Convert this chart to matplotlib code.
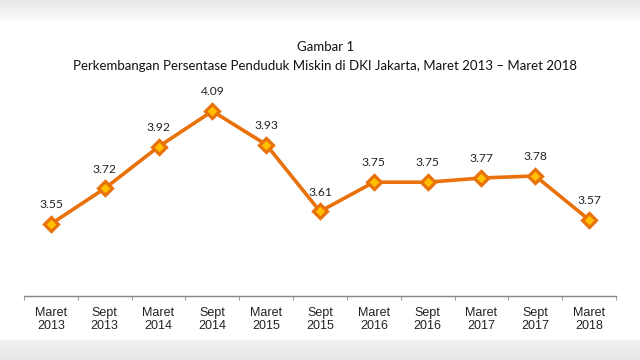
""" plot.py """

import numpy as np
import matplotlib.pyplot as plt

periods = ["Maret\n2013", "Sept\n2013", "Maret\n2014", "Sept\n2014", "Maret\n2015",
           "Sept\n2015", "Maret\n2016", "Sept\n2016", "Maret\n2017", "Sept\n2017",
           "Maret\n2018"]
persen = [3.55, 3.72, 3.92, 4.09, 3.93, 3.61, 3.75, 3.75, 3.77, 3.78, 3.57]

title_1 = "Gambar 1"
title_2 = "Perkembangan Persentase Penduduk Miskin di DKI Jakarta, Maret 2013 \u2013 Maret 2018"

fig = plt.figure(figsize=(6.4, 3.6), dpi=100)
fig.patch.set_facecolor("white")

# background: grey fade at top and bottom edges
bg = fig.add_axes([0, 0, 1, 1])
rows = np.ones(360)
rows[:22] = np.linspace(0.91, 0.99, 22)
rows[340:] = np.linspace(0.95, 0.90, 20)
grad = np.repeat(rows[:, None], 640, axis=1)
bg.imshow(np.dstack([grad, grad, grad]), aspect="auto", extent=[0, 1, 0, 1])
bg.axis("off")

ax = fig.add_axes([0.0375, 64 / 360, 0.925, 216 / 360])
ax.set_facecolor("none")
x = np.arange(len(persen))
ax.plot(x, persen, color="#E8710A", lw=2.6, marker="D", ms=7.5,
        mfc="#FFC000", mec="#E8710A", mew=2.3, zorder=3)
for xi, v in zip(x, persen):
    ax.annotate(f"{v:.2f}", (xi, v), xytext=(0, 10), textcoords="offset points",
                ha="center", va="bottom", fontsize=8.7, family="Lato", color="#222222")

ax.set_xlim(-0.5, len(persen) - 0.5)
ax.set_ylim(3.2055, 4.239)
ax.set_xticks(x)
ax.set_xticklabels(periods, family="Liberation Sans", fontsize=9, color="#222222",
                   linespacing=1.05)
ax.set_xticks(np.arange(-0.5, len(persen)), minor=True)
ax.tick_params(axis="x", which="major", length=0, pad=8)
ax.tick_params(axis="x", which="minor", length=3, color="#888888")
ax.set_yticks([])
for s in ["top", "right", "left"]:
    ax.spines[s].set_visible(False)
ax.spines["bottom"].set_color("#888888")
ax.spines["bottom"].set_linewidth(1.0)

fig.text(0.508, 1 - 47 / 360, title_1, ha="center", va="center", fontsize=9.5,
         family="Lato", color="#111111")
fig.text(0.508, 1 - 66 / 360, title_2, ha="center", va="center", fontsize=9.5,
         family="Lato", color="#111111")

fig.savefig("out.png", dpi=100)
